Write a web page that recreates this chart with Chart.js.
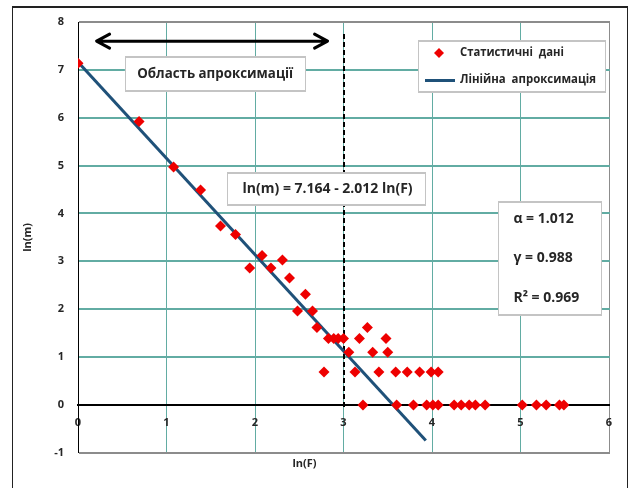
<!DOCTYPE html>
<html><head><meta charset="utf-8">
<script src="https://cdn.jsdelivr.net/npm/chart.js@4.4.0/dist/chart.umd.min.js"></script>
<style>html,body{margin:0;padding:0;background:#fff;overflow:hidden}#wrap{width:630px;height:488px;position:relative}canvas{display:block}</style>
</head><body><div id="wrap"><canvas id="c" width="630" height="488"></canvas></div>
<script>
// ---- data ----
const seriesLabels = ['Статистичні  дані', 'Лінійна  апроксимація'];
const lnF = [0, 0.69, 1.08, 1.385, 1.61, 1.78, 1.94, 2.08, 2.18, 2.31, 2.39, 2.57, 2.48, 2.65, 2.70,
  2.83, 2.89, 2.94, 3.00, 2.78, 3.06, 3.27, 3.18, 3.48, 3.33, 3.50,
  3.13, 3.40, 3.59, 3.72, 3.86, 3.99, 4.07,
  3.22, 3.60, 3.79, 3.94, 4.01, 4.07, 4.25, 4.33, 4.42, 4.49, 4.60, 5.02, 5.18, 5.29, 5.44, 5.49];
const lnM = [7.14, 5.92, 4.97, 4.49, 3.74, 3.56, 2.86, 3.12, 2.86, 3.03, 2.65, 2.31, 1.96, 1.96, 1.62,
  1.39, 1.39, 1.39, 1.39, 0.69, 1.10, 1.62, 1.39, 1.39, 1.10, 1.10,
  0.69, 0.69, 0.69, 0.69, 0.69, 0.69, 0.69,
  0, 0, 0, 0, 0, 0, 0, 0, 0, 0, 0, 0, 0, 0, 0, 0];
const fitF = [0, 3.93];
const fitM = [7.164, -0.743];
const xTickValues = [0, 1, 2, 3, 4, 5, 6];
const yTickValues = [-1, 0, 1, 2, 3, 4, 5, 6, 7, 8];
const xTitle = 'ln(F)';
const yTitle = 'ln(m)';
const regionLabel = 'Область апроксимації';
const regionArrow = [0.21, 2.82, 7.6];   // from F, to F, at m
const thresholdF = 3;
const thresholdM = [7.75, -0.1];
const equationText = 'ln(m) = 7.164 - 2.012 ln(F)';
const statsText = ['α = 1.012', 'γ = 0.988', 'R² = 0.969'];

// ---- styles ----
const GRID = '#62aca3';
const FRAME = '#8c8c8c';
const TXT = '#262626';
const FONT = "'Open Sans', 'DejaVu Sans', sans-serif";
const RED = '#ee0000';
const BLUE = '#1f5179';

const scatterData = lnF.map((f, i) => ({x: f, y: lnM[i]}));
const fitData = fitF.map((f, i) => ({x: f, y: fitM[i]}));

function yGridColor(v) {
  if (v === 8 || v === -1) return FRAME;
  if (v === 0) return '#000';
  return GRID;
}

function box(ctx, x0, y0, x1, y1) {
  ctx.save();
  ctx.fillStyle = '#ffffff';
  ctx.fillRect(x0, y0, x1 - x0, y1 - y0);
  ctx.fillStyle = '#c4c4c4';
  const L = Math.round(x0), T = Math.round(y0), R = Math.round(x1), B = Math.round(y1);
  ctx.fillRect(L, T, R - L, 2);
  ctx.fillRect(L, B - 1, R - L, 2);
  ctx.fillRect(L, T, 1, B - T);
  ctx.fillRect(R, T, 1, B - T + 1);
  ctx.restore();
}

const hGrid = {
  id: 'hgrid',
  beforeDatasetsDraw(chart) {
    const ctx = chart.ctx, sy = chart.scales.y, a = chart.chartArea;
    ctx.save();
    sy.ticks.forEach(t => {
      const p = Math.round(sy.getPixelForValue(t.value));
      ctx.fillStyle = yGridColor(t.value);
      ctx.fillRect(Math.round(a.left) + 1, p - 1, Math.round(a.right - a.left), 2);
    });
    ctx.restore();
  }
};

const overlay = {
  id: 'overlay',
  beforeDatasetsDraw(chart) {
    const ctx = chart.ctx, sx = chart.scales.x, sy = chart.scales.y;
    ctx.save();
    ctx.strokeStyle = '#000';
    ctx.lineWidth = 2;
    ctx.setLineDash([5, 3]);
    const tx = Math.round(sx.getPixelForValue(thresholdF));
    ctx.beginPath();
    ctx.moveTo(tx, sy.getPixelForValue(thresholdM[0]));
    ctx.lineTo(tx, sy.getPixelForValue(thresholdM[1]));
    ctx.stroke();
    ctx.setLineDash([]);
    const ax0 = sx.getPixelForValue(regionArrow[0]), ax1 = sx.getPixelForValue(regionArrow[1]);
    const ay = sy.getPixelForValue(regionArrow[2]);
    ctx.lineWidth = 3;
    ctx.lineCap = 'round';
    ctx.lineJoin = 'round';
    ctx.beginPath();
    ctx.moveTo(ax0 + 2, ay); ctx.lineTo(ax1 - 2, ay);
    ctx.moveTo(ax0 + 13, ay - 7); ctx.lineTo(ax0, ay); ctx.lineTo(ax0 + 13, ay + 7);
    ctx.moveTo(ax1 - 13, ay - 7); ctx.lineTo(ax1, ay); ctx.lineTo(ax1 - 13, ay + 7);
    ctx.stroke();
    ctx.lineCap = 'butt';
    ctx.lineJoin = 'miter';
    box(ctx, sx.getPixelForValue(0.53), sy.getPixelForValue(7.28), sx.getPixelForValue(2.57), sy.getPixelForValue(6.56));
    ctx.fillStyle = TXT;
    ctx.textAlign = 'center';
    ctx.textBaseline = 'middle';
    ctx.font = 'bold 14px ' + FONT;
    ctx.fillText(regionLabel, sx.getPixelForValue(1.55), sy.getPixelForValue(6.92), 156);
    box(ctx, sx.getPixelForValue(1.68), sy.getPixelForValue(4.86), sx.getPixelForValue(3.92), sy.getPixelForValue(4.17));
    ctx.fillStyle = TXT;
    ctx.fillText(equationText, sx.getPixelForValue(2.82), sy.getPixelForValue(4.51), 170);
    box(ctx, sx.getPixelForValue(4.75), sy.getPixelForValue(4.26), sx.getPixelForValue(5.91), sy.getPixelForValue(1.87));
    ctx.fillStyle = TXT;
    ctx.textAlign = 'left';
    const sxl = sx.getPixelForValue(4.92);
    [3.88, 3.06, 2.24].forEach((m, i) => {
      ctx.fillText(statsText[i], sxl, sy.getPixelForValue(m), i === 2 ? 70 : 62);
    });
    ctx.restore();
  },
  afterDatasetsDraw(chart) {
    const ctx = chart.ctx, a = chart.chartArea;
    const ds = chart.data.datasets;
    ctx.save();
    const lx = a.right - 191, ly = a.top + 18;
    box(ctx, lx, ly, lx + 187, ly + 52);
    ctx.fillStyle = ds[0].backgroundColor;
    const mx = lx + 21, my = ly + 13;
    ctx.beginPath();
    ctx.moveTo(mx, my - 5); ctx.lineTo(mx + 5, my); ctx.lineTo(mx, my + 5); ctx.lineTo(mx - 5, my); ctx.closePath();
    ctx.fill();
    ctx.fillStyle = ds[1].borderColor;
    ctx.fillRect(lx + 7, ly + 39, 30, 3);
    ctx.fillStyle = TXT;
    ctx.font = 'bold 12px ' + FONT;
    ctx.textAlign = 'left';
    ctx.textBaseline = 'middle';
    ctx.fillText(ds[0].label, lx + 42, my, 104);
    ctx.fillText(ds[1].label, lx + 42, ly + 40, 136);
    ctx.restore();
  },
  afterDraw(chart) {
    const ctx = chart.ctx;
    ctx.save();
    ctx.fillStyle = '#222';
    ctx.fillRect(12, 7, 1, 481);
    ctx.fillRect(12, 6, 616, 2);
    ctx.fillRect(627, 7, 1, 481);
    ctx.restore();
  }
};

new Chart(document.getElementById('c'), {
  type: 'scatter',
  data: {
    datasets: [
      {label: seriesLabels[0], data: scatterData, backgroundColor: RED, borderColor: RED,
       pointStyle: 'rectRot', pointRadius: 5.5, borderWidth: 0, order: 1},
      {label: seriesLabels[1], data: fitData, type: 'line', showLine: true, borderColor: BLUE,
       backgroundColor: BLUE, borderWidth: 3, pointRadius: 0, fill: false, order: 2}
    ]
  },
  plugins: [hGrid, overlay],
  options: {
    responsive: false,
    animation: false,
    devicePixelRatio: 1,
    layout: {padding: {left: 0, top: 22, right: 21, bottom: 0}},
    plugins: {
      legend: {display: false},
      tooltip: {enabled: false},
      title: {display: true, position: 'bottom', text: xTitle, color: TXT,
              font: {family: FONT, size: 11, weight: 'bold'}, padding: {top: 4, bottom: 18}}
    },
    scales: {
      x: {
        type: 'linear', position: {y: 0}, min: 0, max: 6,
        afterBuildTicks: s => { s.ticks = xTickValues.map(v => ({value: v})); },
        ticks: {color: TXT, font: {family: FONT, size: 11, weight: 'bold'}, padding: 11},
        grid: {drawTicks: false, lineWidth: 1,
               color: c => (c.tick && c.tick.value === 6) ? FRAME : (c.tick && c.tick.value === 0 ? 'rgba(0,0,0,0)' : GRID)},
        border: {display: true, color: '#000', width: 2}
      },
      y: {
        type: 'linear', position: 'left', min: -1, max: 8,
        afterBuildTicks: s => { s.ticks = yTickValues.map(v => ({value: v})); },
        afterFit: s => { s.width = 78; },
        ticks: {color: TXT, font: {family: FONT, size: 11, weight: 'bold'}, padding: 14},
        grid: {drawTicks: false, lineWidth: 1, color: c => yGridColor(c.tick ? c.tick.value : null)},
        border: {display: true, color: '#000', width: 1},
        title: {display: true, text: yTitle, color: TXT, font: {family: FONT, size: 11, weight: 'bold'},
                padding: {top: 21, bottom: 0}}
      }
    }
  }
});
</script>
</body></html>
